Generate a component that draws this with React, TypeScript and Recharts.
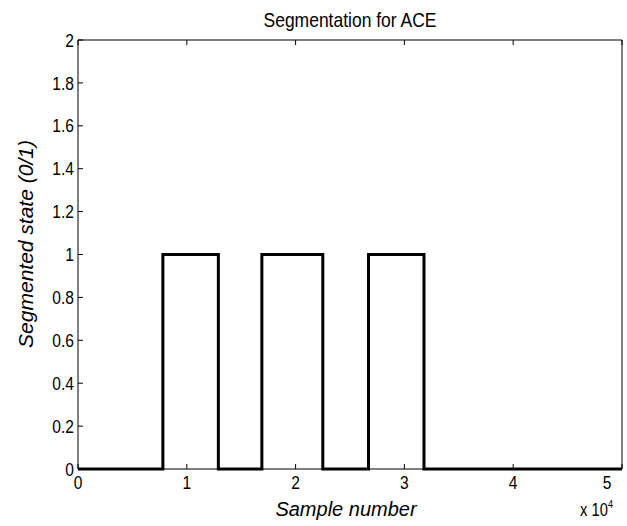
import { Line, LineChart, XAxis, YAxis } from 'recharts'

// switch points of the segmentation (sample index) and the state that starts there
const sampleEdges = [0, 7800, 12900, 16900, 22500, 26700, 31800, 50000]
const segmentState = [0, 1, 0, 1, 0, 1, 0, 0]
const xTicks = [0, 10000, 20000, 30000, 40000, 50000]
const yTicks = [0, 0.2, 0.4, 0.6, 0.8, 1, 1.2, 1.4, 1.6, 1.8, 2]

const chartData = sampleEdges.map((x, i) => ({ x, state: segmentState[i] }))

const font = '"Liberation Sans", Arial, sans-serif'
const SQUEEZE = 0.82 // reference uses a narrow helvetica

// tick text squeezed horizontally around its anchor point
const NarrowTick = ({ x, y, payload, textAnchor, fmt, dy }: any) => (
  <text transform={`translate(${x},${y}) scale(${SQUEEZE},1)`} textAnchor={textAnchor} dy={dy}
    fontFamily={font} fontSize={19} fill="#000">
    {fmt(payload.value)}
  </text>
)

const Title = ({ viewBox }: any) => (
  <text x={viewBox.x + viewBox.width / 2} y={27} textAnchor="middle" fontFamily={font} fontSize={21} fill="#000"
    textLength={173} lengthAdjust="spacingAndGlyphs">
    Segmentation for ACE
  </text>
)

const XLabel = ({ viewBox }: any) => (
  <g>
    <text x={viewBox.x + viewBox.width / 2 - 4} y={516} textAnchor="middle" fontFamily={font} fontStyle="italic" fontSize={20} fill="#000">
      Sample number
    </text>
    <text transform={`translate(${viewBox.x + viewBox.width - 9},516) scale(${SQUEEZE},1)`} textAnchor="end" fontFamily={font} fontSize={18} fill="#000">
      x 10<tspan dy={-8} fontSize={11}>4</tspan>
    </text>
  </g>
)

const YLabel = ({ viewBox }: any) => {
  const cx = 25
  const cy = 244
  return (
    <text x={cx} y={cy} transform={`rotate(-90 ${cx} ${cy})`} textAnchor="middle" dominantBaseline="central" fontFamily={font} fontStyle="italic" fontSize={21} fill="#000">
      Segmented state (0/1)
    </text>
  )
}

export default function App() {
  return (
    <div style={{ position: 'absolute', left: 0, top: 0, background: '#fff' }}>
      <LineChart width={627} height={526} data={chartData} margin={{ top: 39, right: 4, left: 18, bottom: 17 }}>
        <XAxis xAxisId="bottom" dataKey="x" type="number" domain={[0, 50000]} ticks={xTicks}
          height={40} stroke="#000" tickSize={-5} tickMargin={12}
          tick={<NarrowTick fmt={(v: number) => String(v / 10000)} dy="0.71em" />} label={<XLabel />} />
        <XAxis xAxisId="top" orientation="top" dataKey="x" type="number" domain={[0, 50000]} ticks={xTicks} tickFormatter={() => ''}
          height={1} stroke="#000" tickSize={-5} label={<Title />} />
        <YAxis yAxisId="left" type="number" domain={[0, 2]} ticks={yTicks}
          width={60} stroke="#000" tickSize={-5} tickMargin={9}
          tick={<NarrowTick fmt={(v: number) => String(Math.round(v * 10) / 10)} dy="0.35em" />} label={<YLabel />} />
        <YAxis yAxisId="right" orientation="right" type="number" domain={[0, 2]} ticks={yTicks} tickFormatter={() => ''}
          width={1} stroke="#000" tickSize={-5} />
        <Line xAxisId="bottom" yAxisId="left" type="stepAfter" dataKey="state" stroke="#000" strokeWidth={3} dot={false} isAnimationActive={false} />
      </LineChart>
    </div>
  )
}
